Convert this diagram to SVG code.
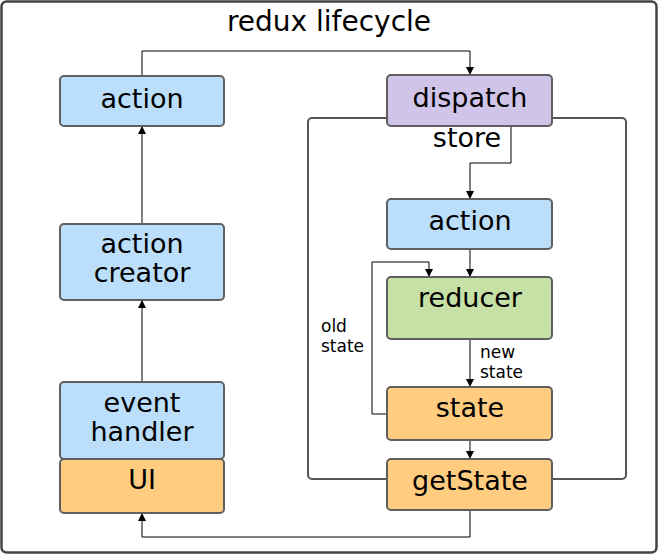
<svg xmlns="http://www.w3.org/2000/svg" width="659" height="555" viewBox="0 0 659 555">
<style>
.n{stroke:#5f5f5f;stroke-width:2}
.blue{fill:#bbdefb}.purple{fill:#d1c4e9}.green{fill:#c5e1a5}.orange{fill:#ffcc80}
text{font-family:"Comic Sans MS","DejaVu Sans",sans-serif;fill:#000;text-anchor:middle}
.t{font-size:27px}
.s{font-size:17px;text-anchor:start}
.c{fill:none;stroke:#000;stroke-width:1}
</style>
<defs>
<marker id="ah" viewBox="0 0 8 8" refX="8" refY="4" markerWidth="8" markerHeight="8" markerUnits="userSpaceOnUse" orient="auto">
<path d="M0,0 L8,4 L0,8 z" fill="#000"/>
</marker>
</defs>
<rect x="1.5" y="1.5" width="655" height="551" rx="5" fill="#fff" stroke="#444" stroke-width="2.5"/>
<text x="329" y="31" style="font-size:28px">redux lifecycle</text>
<g id="store">
<rect x="308" y="118" width="318" height="361" rx="4" fill="none" stroke="#555" stroke-width="2"/>
<text x="467" y="147" style="font-size:27px">store</text>
</g>
<g id="connectors">
<path class="c" d="M142,76 V51 H470 V75" marker-end="url(#ah)"/>
<path class="c" d="M142,224 V126" marker-end="url(#ah)"/>
<path class="c" d="M142,382 V300" marker-end="url(#ah)"/>
<path class="c" d="M511,126 V163 H470 V199" marker-end="url(#ah)"/>
<path class="c" d="M470,249 V277" marker-end="url(#ah)" stroke="#555"/>
<path class="c" d="M387,414 H372 V262 H429 V277" marker-end="url(#ah)"/>
<path class="c" d="M470,339 V387" marker-end="url(#ah)" stroke="#555"/>
<path class="c" d="M470,440 V459" marker-end="url(#ah)" stroke="#555"/>
<path class="c" d="M470,510 V537 H142 V513" marker-end="url(#ah)"/>
<text class="s" x="321" y="332">old</text>
<text class="s" x="321" y="352">state</text>
<text class="s" x="480" y="358">new</text>
<text class="s" x="480" y="378">state</text>
</g>
<g id="action-left">
<rect class="n blue" x="60" y="76" width="164" height="50" rx="4"/>
<text class="t" x="142" y="108">action</text>
</g>
<g id="action-creator">
<rect class="n blue" x="60" y="224" width="164" height="76" rx="4"/>
<text class="t" x="142" y="253">action</text>
<text class="t" x="142" y="282">creator</text>
</g>
<g id="event-handler">
<rect class="n blue" x="60" y="382" width="164" height="77" rx="4"/>
<text class="t" x="142" y="412">event</text>
<text class="t" x="142" y="441">handler</text>
</g>
<g id="ui">
<rect class="n orange" x="60" y="459" width="164" height="54" rx="4"/>
<text class="t" x="142" y="489">UI</text>
</g>
<g id="dispatch">
<rect class="n purple" x="387" y="75" width="165" height="51" rx="4"/>
<text class="t" x="470" y="107">dispatch</text>
</g>
<g id="action-store">
<rect class="n blue" x="387" y="199" width="165" height="50" rx="4"/>
<text class="t" x="470" y="230">action</text>
</g>
<g id="reducer">
<rect class="n green" x="387" y="277" width="165" height="62" rx="4"/>
<text class="t" x="470" y="307">reducer</text>
</g>
<g id="state">
<rect class="n orange" x="387" y="387" width="165" height="53" rx="4"/>
<text class="t" x="470" y="417">state</text>
</g>
<g id="getstate">
<rect class="n orange" x="387" y="459" width="165" height="51" rx="4"/>
<text class="t" x="470" y="490">getState</text>
</g>
</svg>
